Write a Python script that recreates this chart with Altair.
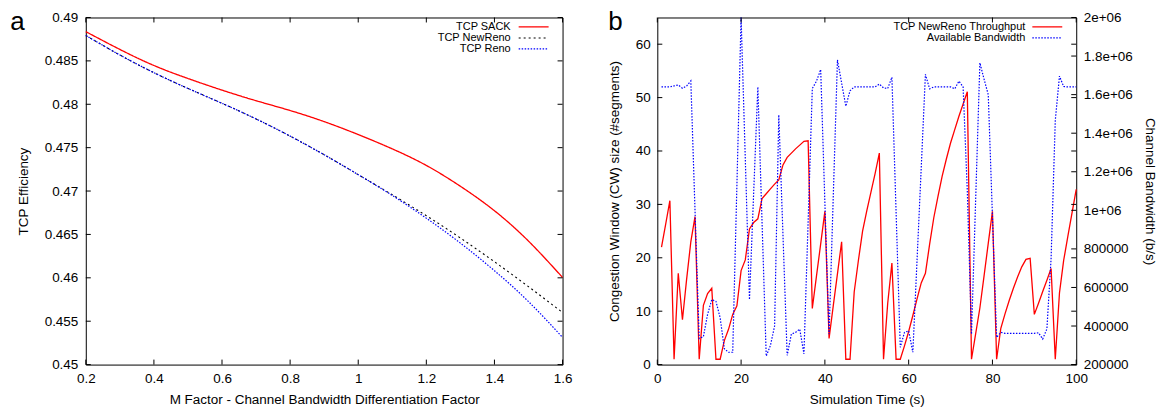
import altair as alt
import pandas as pd

# ---------------- Panel a data ----------------
m_factor = [0.2, 0.3, 0.4, 0.5, 0.6, 0.7, 0.8, 0.9, 1.0, 1.1, 1.2, 1.3, 1.4, 1.5, 1.6]
eff_sack = [0.48837, 0.48632, 0.48447, 0.48297, 0.48163, 0.48041, 0.47928, 0.47800,
            0.47651, 0.47486, 0.47295, 0.47055, 0.46773, 0.46423, 0.46004]
eff_newreno = [0.48792, 0.48568, 0.48364, 0.48182, 0.48011, 0.47831, 0.47633, 0.47418,
               0.47189, 0.46957, 0.46716, 0.46459, 0.46185, 0.45898, 0.45600]
eff_reno = [0.48792, 0.48568, 0.48364, 0.48182, 0.48011, 0.47831, 0.47633, 0.47418,
            0.47189, 0.46949, 0.46687, 0.46400, 0.46082, 0.45726, 0.45313]
series_a = ["TCP SACK", "TCP NewReno", "TCP Reno"]
xticks_a = [0.2, 0.4, 0.6, 0.8, 1.0, 1.2, 1.4, 1.6]
yticks_a = [0.45, 0.455, 0.46, 0.465, 0.47, 0.475, 0.48, 0.485, 0.49]

# ---------------- Panel b data ----------------
sim_time = list(range(1, 101))
cwnd = [22.0, 26.3, 30.7, 1.0, 17.1, 8.4, 16.0, 23.0, 27.7, 1.0,
        11.1, 13.3, 14.3, 1.0, 1.0, 4.5, 6.6, 9.4, 11.0, 17.6,
        19.6, 25.4, 26.6, 27.3, 31.1, 32.0, 32.9, 33.8, 34.6, 37.4,
        38.8, 39.6, 40.4, 41.1, 41.8, 41.9, 10.5, 16.6, 22.6, 28.7,
        4.9, 11.0, 17.0, 23.0, 1.0, 1.0, 13.6, 19.5, 25.0, 28.8,
        32.3, 35.8, 39.6, 1.0, 11.5, 19.0, 1.0, 1.0, 3.5, 6.2,
        9.2, 12.3, 15.3, 17.1, 22.5, 27.5, 31.5, 35.3, 38.5, 41.5,
        44.0, 46.5, 48.8, 51.1, 1.0, 5.8, 10.6, 16.6, 22.7, 28.7,
        1.0, 6.8, 9.5, 12.0, 14.3, 16.4, 18.3, 19.7, 19.9, 9.4,
        11.5, 13.7, 15.8, 18.0, 1.0, 13.4, 19.5, 24.0, 28.4, 32.8]
avail_bw = [1640000, 1640000, 1640000, 1645000, 1650000, 1633000, 1645000, 1671000, 1000000, 335000,
            345000, 460000, 537000, 528000, 443000, 282000, 264000, 264000, 1130000, 2000000,
            1270000, 537000, 1090000, 1640000, 940000, 244000, 299000, 400000, 1495000, 870000,
            248000, 358000, 367000, 384000, 256000, 940000, 1632000, 1670000, 1730000, 1040000,
            358000, 1070000, 1780000, 1660000, 1540000, 1620000, 1640000, 1640000, 1640000, 1640000,
            1640000, 1640000, 1655000, 1635000, 1632000, 1690000, 990000, 290000, 367000, 375000,
            264000, 740000, 1220000, 1705000, 1630000, 1640000, 1640000, 1640000, 1640000, 1640000,
            1630000, 1670000, 1640000, 1100000, 358000, 1060000, 1765000, 1680000, 1600000, 970000,
            341000, 367000, 362000, 362000, 362000, 362000, 362000, 362000, 362000, 362000,
            365000, 333000, 385000, 750000, 1466000, 1696000, 1642000, 1640000, 1640000, 1640000]
series_b = ["TCP NewReno Throughput", "Available Bandwidth"]
xticks_b = [0, 20, 40, 60, 80, 100]
yticks_b = [0, 10, 20, 30, 40, 50, 60]
y2ticks_b = [200000, 400000, 600000, 800000, 1000000, 1200000, 1400000,
             1600000, 1800000, 2000000]

FONT = "Liberation Sans"
RED = "#ff0000"
BLUE = "#0000ff"
BLACK = "#000000"
WA, HA = 478, 348
WB, HB = 420, 348
TK = 5

# ---------------- Panel a ----------------
df_a = pd.DataFrame({"m": m_factor * 3,
                     "eff": eff_sack + eff_newreno + eff_reno,
                     "series": [series_a[0]] * 15 + [series_a[1]] * 15 + [series_a[2]] * 15})
xs_a = alt.Scale(domain=[0.2, 1.6], nice=False, zero=False)
ys_a = alt.Scale(domain=[0.45, 0.49], nice=False, zero=False)

styles_a = {series_a[0]: (RED, [1, 0], 1.3),
            series_a[1]: (BLACK, [2, 3], 1.1),
            series_a[2]: (BLUE, [1.5, 1.5], 1.2)}

layers_a = []
first = True
for s in series_a:
    col, dash, w = styles_a[s]
    if first:
        xenc = alt.X("m:Q", scale=xs_a, title="M Factor - Channel Bandwidth Differentiation Factor",
                     axis=alt.Axis(values=xticks_a, format=".1~f", ticks=False, domain=False,
                                   grid=False, labelPadding=7, titlePadding=8, labelFlush=False))
        yenc = alt.Y("eff:Q", scale=ys_a, title="TCP Efficiency",
                     axis=alt.Axis(values=yticks_a, format=".3~f", ticks=False, domain=False,
                                   grid=False, labelPadding=8, titlePadding=14, labelFlush=False))
        first = False
    else:
        xenc = alt.X("m:Q", scale=xs_a)
        yenc = alt.Y("eff:Q", scale=ys_a)
    layers_a.append(
        alt.Chart(df_a).transform_filter(alt.datum.series == s)
        .mark_line(color=col, strokeDash=dash, strokeWidth=w, interpolate="natural")
        .encode(x=xenc, y=yenc)
    )

ytk_a = pd.DataFrame({"v": yticks_a})
xtk_a = pd.DataFrame({"v": xticks_a})
tick_layers_a = [
    alt.Chart(ytk_a).mark_rule(color=BLACK).encode(y=alt.Y("v:Q", scale=ys_a), x=alt.value(0), x2=alt.value(TK)),
    alt.Chart(ytk_a).mark_rule(color=BLACK).encode(y=alt.Y("v:Q", scale=ys_a), x=alt.value(WA - TK), x2=alt.value(WA)),
    alt.Chart(xtk_a).mark_rule(color=BLACK).encode(x=alt.X("v:Q", scale=xs_a), y=alt.value(HA - TK), y2=alt.value(HA)),
    alt.Chart(xtk_a).mark_rule(color=BLACK).encode(x=alt.X("v:Q", scale=xs_a), y=alt.value(0), y2=alt.value(TK)),
]

legend_a = []
for i, s in enumerate(series_a):
    col, dash, w = styles_a[s]
    yy = 9.5 + 11 * i
    legend_a.append(alt.Chart(pd.DataFrame({"s": [s]})).mark_text(
        align="right", baseline="middle", fontSize=11, font=FONT, color=BLACK
    ).encode(text="s:N", x=alt.value(426), y=alt.value(yy)))
    legend_a.append(alt.Chart(pd.DataFrame({"s": [s]})).mark_rule(
        color=col, strokeDash=dash, strokeWidth=w
    ).encode(x=alt.value(434), x2=alt.value(464), y=alt.value(yy)))

label_a = alt.Chart(pd.DataFrame({"t": ["a"]})).mark_text(
    fontSize=26, font=FONT, align="center", baseline="alphabetic", color=BLACK
).encode(text="t:N", x=alt.value(-68.5), y=alt.value(12.7))

panel_a = alt.layer(*layers_a, *tick_layers_a, *legend_a, label_a).properties(width=WA, height=HA)

# ---------------- Panel b ----------------
df_cw = pd.DataFrame({"t": sim_time, "cw": cwnd})
df_bw = pd.DataFrame({"t": sim_time, "bw": avail_bw})
xs_b = alt.Scale(domain=[0, 100], nice=False, zero=False)
ys_b = alt.Scale(domain=[0, 65], nice=False, zero=False)
y2s_b = alt.Scale(domain=[200000, 2000000], nice=False, zero=False)

bw_line = alt.Chart(df_bw).mark_line(color=BLUE, strokeDash=[1.5, 1.5], strokeWidth=1.2).encode(
    x=alt.X("t:Q", scale=xs_b),
    y=alt.Y("bw:Q", scale=y2s_b, title="Channel Bandwidth (b/s)",
            axis=alt.Axis(orient="right", values=y2ticks_b, ticks=False, domain=False, grid=False,
                          labelPadding=7, titlePadding=10, labelFlush=False,
                          labelExpr="datum.value >= 1000000 ? format(datum.value/1000000, '~g') + 'e+06' : format(datum.value, 'd')"))
)
cw_line = alt.Chart(df_cw).mark_line(color=RED, strokeWidth=1.3).encode(
    x=alt.X("t:Q", scale=xs_b, title="Simulation Time (s)",
            axis=alt.Axis(values=xticks_b, ticks=False, domain=False, grid=False,
                          labelPadding=7, titlePadding=8, labelFlush=False)),
    y=alt.Y("cw:Q", scale=ys_b, title="Congestion Window (CW) size (#segments)",
            axis=alt.Axis(values=yticks_b, ticks=False, domain=False, grid=False,
                          labelPadding=7, titlePadding=14, labelFlush=False))
)

ytk_b = pd.DataFrame({"v": yticks_b})
y2tk_b = pd.DataFrame({"v": y2ticks_b})
xtk_b = pd.DataFrame({"v": xticks_b})
tk_b1 = alt.Chart(ytk_b).mark_rule(color=BLACK).encode(
    y=alt.Y("v:Q", scale=ys_b, axis=None), x=alt.value(0), x2=alt.value(TK))
tk_b2 = alt.Chart(ytk_b).mark_rule(color=BLACK).encode(
    y=alt.Y("v:Q", scale=ys_b, axis=None), x=alt.value(WB - TK), x2=alt.value(WB))
tk_b3 = alt.Chart(y2tk_b).mark_rule(color=BLACK).encode(
    y=alt.Y("v:Q", scale=y2s_b, axis=None), x=alt.value(WB - TK), x2=alt.value(WB))
tk_b4 = alt.Chart(xtk_b).mark_rule(color=BLACK).encode(
    x=alt.X("v:Q", scale=xs_b), y=alt.value(HB - TK), y2=alt.value(HB))
tk_b5 = alt.Chart(xtk_b).mark_rule(color=BLACK).encode(
    x=alt.X("v:Q", scale=xs_b), y=alt.value(0), y2=alt.value(TK))

styles_b = {series_b[0]: (RED, [1, 0], 1.3), series_b[1]: (BLUE, [1.5, 1.5], 1.2)}
legend_b = []
for i, s in enumerate(series_b):
    col, dash, w = styles_b[s]
    yy = 9.5 + 11 * i
    legend_b.append(alt.Chart(pd.DataFrame({"s": [s]})).mark_text(
        align="right", baseline="middle", fontSize=11, font=FONT, color=BLACK
    ).encode(text="s:N", x=alt.value(369), y=alt.value(yy)))
    legend_b.append(alt.Chart(pd.DataFrame({"s": [s]})).mark_rule(
        color=col, strokeDash=dash, strokeWidth=w
    ).encode(x=alt.value(376), x2=alt.value(406), y=alt.value(yy)))

label_b = alt.Chart(pd.DataFrame({"t": ["b"]})).mark_text(
    fontSize=26, font=FONT, align="center", baseline="alphabetic", color=BLACK
).encode(text="t:N", x=alt.value(-42), y=alt.value(12.7))

panel_b = alt.layer(cw_line, bw_line, tk_b1, tk_b2, tk_b3, tk_b4, tk_b5, *legend_b, label_b).resolve_scale(
    y="independent").properties(width=WB, height=HB)

chart = alt.hconcat(panel_a, panel_b, spacing=95, bounds="flush").properties(
    padding={"left": 1, "top": 0, "right": 5, "bottom": 0}
).configure_view(stroke=BLACK, strokeWidth=1).configure_axis(
    labelFont=FONT, titleFont=FONT, labelFontSize=13.5, titleFontSize=13.5,
    labelColor=BLACK, titleColor=BLACK, titleFontWeight="normal"
).configure_text(font=FONT)

chart.save("out.html", embed_options={"renderer": "svg", "actions": False})
